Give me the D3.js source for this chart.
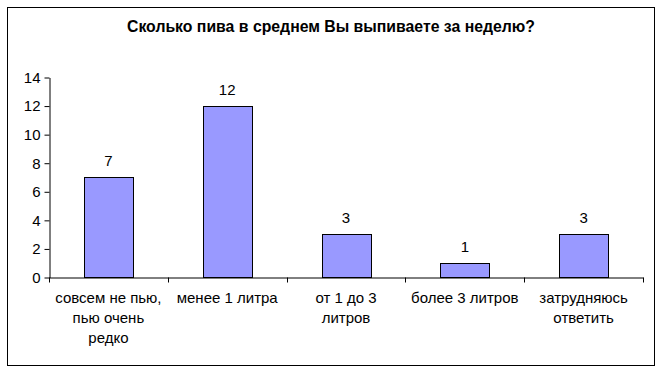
<!DOCTYPE html>
<html>
<head>
    <meta charset="utf-8">
    <style>
        body {
            margin: 0;
            background-color: #FFF;
        }
        text {
            font-family: "Liberation Sans", Arial, sans-serif;
        }
    </style>
</head>
<body>
<div id="chartArea"></div>
<script src="https://d3js.org/d3.v7.min.js"></script>
<script>
    /* -----------------------------------
        data
    ----------------------------------- */
    var title = "Сколько пива в среднем Вы выпиваете за неделю?";
    var categories = ["совсем не пью,\nпью очень\nредко", "менее 1 литра", "от 1 до 3\nлитров", "более 3 литров", "затрудняюсь\nответить"];
    var values = [7, 12, 3, 1, 3];
    var yTicks = [0, 2, 4, 6, 8, 10, 12, 14];

    /* -----------------------------------
        initialize
    ----------------------------------- */
    var width = 662, height = 373;
    var plot = {left: 49, right: 643, top: 77, bottom: 277};

    var svg = d3.select("#chartArea").append("svg")
        .attr("width", width)
        .attr("height", height);

    // chart frame
    svg.append("rect")
        .attr("x", 7.5).attr("y", 7.5)
        .attr("width", 647).attr("height", 358)
        .attr("fill", "#FFF")
        .attr("stroke", "#000")
        .attr("stroke-width", 1);

    svg.append("text")
        .attr("x", 331).attr("y", 32)
        .attr("text-anchor", "middle")
        .style("font-size", "15.8px")
        .style("font-weight", "bold")
        .text(title);

    var x = d3.scaleBand()
        .domain(categories)
        .range([plot.left, plot.right])
        .padding(0);

    var y = d3.scaleLinear()
        .domain([0, 14])
        .range([plot.bottom, plot.top]);

    var barW = x.bandwidth() * 0.41;

    /* -----------------------------------
        bars
    ----------------------------------- */
    svg.selectAll(".bar").data(values).enter()
        .append("rect")
        .attr("class", "bar")
        .attr("x", function(d, i) { return Math.round(x(categories[i]) + (x.bandwidth() - barW) / 2) + 0.5; })
        .attr("y", function(d) { return Math.round(y(d)) + 0.5; })
        .attr("width", Math.round(barW))
        .attr("height", function(d) { return Math.round(y(0)) - Math.round(y(d)); })
        .attr("fill", "#9999FF")
        .attr("stroke", "#000")
        .attr("stroke-width", 1);

    svg.selectAll(".vlabel").data(values).enter()
        .append("text")
        .attr("class", "vlabel")
        .attr("x", function(d, i) { return x(categories[i]) + x.bandwidth() / 2; })
        .attr("y", function(d) { return y(d) - 11; })
        .attr("text-anchor", "middle")
        .style("font-size", "15px")
        .text(function(d) { return d; });

    /* -----------------------------------
        axes
    ----------------------------------- */
    var yAxis = svg.append("g")
        .attr("transform", "translate(" + (plot.left + 0.5) + ",0.5)")
        .call(d3.axisLeft(y).tickValues(yTicks).tickSize(5).tickSizeOuter(0).tickPadding(4));

    var xAxis = svg.append("g")
        .attr("transform", "translate(0," + (Math.round(y(0)) + 0.5) + ")")
        .call(d3.axisBottom(x).tickSize(0).tickSizeOuter(0).tickFormat(""));

    // tick marks between categories
    xAxis.selectAll(".sep").data(d3.range(categories.length + 1)).enter()
        .append("line")
        .attr("class", "sep")
        .attr("x1", function(i) { return Math.round(plot.left + i * x.step()) + 0.5; })
        .attr("x2", function(i) { return Math.round(plot.left + i * x.step()) + 0.5; })
        .attr("y1", 0).attr("y2", 5)
        .attr("stroke", "#000");

    svg.selectAll(".domain").attr("stroke", "#000");
    yAxis.selectAll("text")
        .style("font-size", "15px")
        .style("font-family", "'Liberation Sans', Arial, sans-serif")
        .attr("fill", "#000");

    // category labels
    svg.selectAll(".clabel").data(categories).enter()
        .append("text")
        .attr("class", "clabel")
        .attr("text-anchor", "middle")
        .style("font-size", "15px")
        .attr("transform", function(d) { return "translate(" + (x(d) + x.bandwidth() / 2) + "," + (y(0) + 26) + ")"; })
        .selectAll("tspan").data(function(d) { return d.split("\n"); }).enter()
        .append("tspan")
        .attr("x", 0)
        .attr("dy", function(d, i) { return i ? 20 : 0; })
        .text(function(d) { return d; });
</script>
</body>
</html>
